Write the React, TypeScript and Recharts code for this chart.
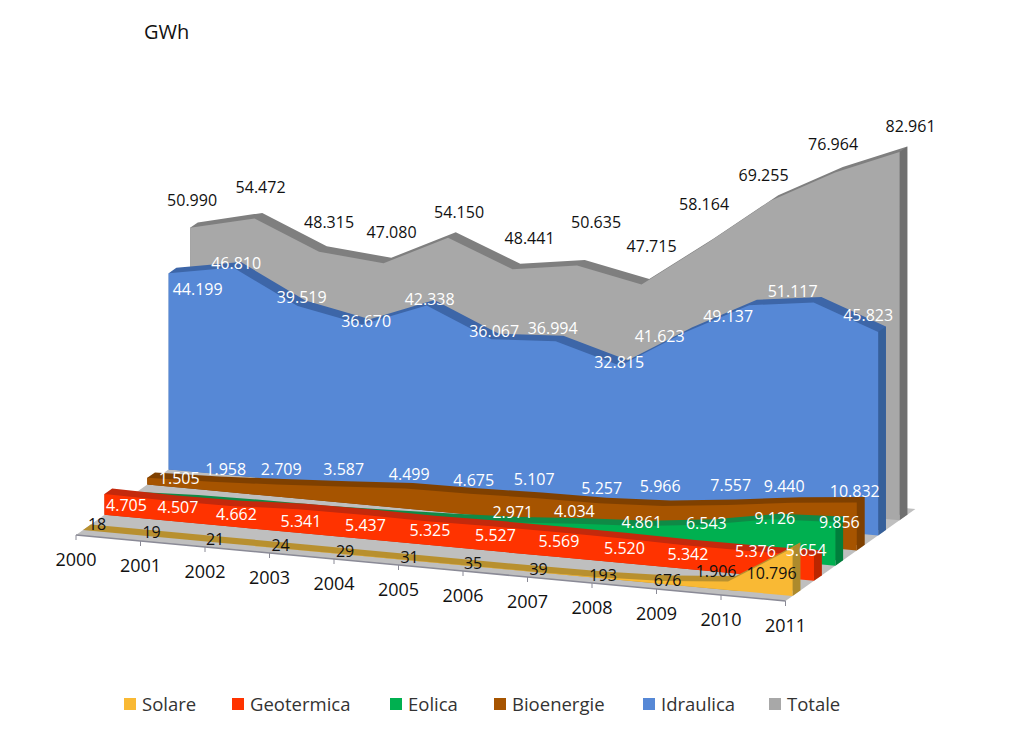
import { Area, ComposedChart, Legend, Line, LabelList, XAxis, YAxis } from "recharts";

const years = [2000, 2001, 2002, 2003, 2004, 2005, 2006, 2007, 2008, 2009, 2010, 2011];

const solare = [18, 19, 21, 24, 29, 31, 35, 39, 193, 676, 1906, 10796];
const geotermica = [4705, 4507, 4662, 5341, 5437, 5325, 5527, 5569, 5520, 5342, 5376, 5654];
const eolica = [563, 1179, 1404, 1458, 1847, 2343, 2971, 4034, 4861, 6543, 9126, 9856];
const bioenergie = [1505, 1958, 2709, 3587, 4499, 4675, 5107, 5257, 5966, 7557, 9440, 10832];
const idraulica = [44199, 46810, 39519, 36670, 42338, 36067, 36994, 32815, 41623, 49137, 51117, 45823];
const totale = [50990, 54472, 48315, 47080, 54150, 48441, 50635, 47715, 58164, 69255, 76964, 82961];

// label nudges in px, null = no label in the original
type Nudge = [number, number] | null;
const solareNudge: Nudge[] = [[14, -6], [4, -4], [3, -3], [4, -3], [4, -3], [4, -3], [3, -3], [4, -3], [4, -2], [4, -1], [-12, -11], [-21, 25]];
const geoNudge: Nudge[] = [[22, 11], [9, 6], [3, 8], [3, 12], [3, 10], [3, 9], [4, 9], [3, 9], [4, 10], [3, 9], [6, 0], [-8, -6]];
const eolicaNudge: Nudge[] = [null, null, null, null, null, null, [0, -11], [-3, -13], [0, -4], [0, -2], [4, -1], [4, 0]];
const bioNudge: Nudge[] = [[32, 0], [14, -13], [5, -16], [3, -18], [4, -15], [4, -14], [0, -19], [3, -15], [-3, -20], [3, -20], [-8, -17], [-2, -11]];
const idraulicaNudge: Nudge[] = [[29, 16], [3, -5], [4, -9], [4, -4], [3, -6], [3, -8], [-3, -13], [-1, -4], [-25, 3], [-21, 11], [-21, -11], [-10, -17]];
const totaleNudge: Nudge[] = [[2, -28], [6, -31], [10, -30], [8, -31], [11, -26], [17, -31], [19, -43], [10, -38], [-2, -40], [-7, -26], [-2, -29], [11, -26]];

const legendWidths = [108, 158, 104, 149, 126, 80];

const series = [
  { name: "Solare", values: solare, depth: 0.33, face: "#f9b934", top: "#b8902f", wall: "#ad8a2c", text: "#111", nudge: solareNudge },
  { name: "Geotermica", values: geotermica, depth: 1.33, face: "#ff3300", top: "#c4290c", wall: "#bb2600", text: "#fff", nudge: geoNudge },
  { name: "Eolica", values: eolica, depth: 2.33, face: "#00b050", top: "#0f8a46", wall: "#007f3c", text: "#fff", nudge: eolicaNudge },
  { name: "Bioenergie", values: bioenergie, depth: 3.33, face: "#a65400", top: "#7f4000", wall: "#7f4000", text: "#fff", nudge: bioNudge },
  { name: "Idraulica", values: idraulica, depth: 4.33, face: "#5688d6", top: "#3d66a8", wall: "#36609a", text: "#fff", nudge: idraulicaNudge },
  { name: "Totale", values: totale, depth: 5.33, face: "#a8a8a8", top: "#7f7f7f", wall: "#6f6f6f", text: "#111", nudge: totaleNudge },
];

// oblique projection expressed in axis units (years across, GWh up)
const W = 1024;
const H = 753;
const PX_PER_YEAR = 64.5;
const PX_PER_GWH = 0.00444;
const FRONT_X = 76;
const FRONT_Y = 535;
const DEPTH_X = 21.4 / PX_PER_YEAR;
const DEPTH_Y = 15.15 / PX_PER_GWH;
const SLOPE = 6 / PX_PER_GWH;
const THICK = 0.36;
const FLOOR_DEPTH = 6.07;

const px = (year: number, depth: number) => year + depth * DEPTH_X;
const py = (year: number, depth: number) => -(year - 2000) * SLOPE + depth * DEPTH_Y;

const xDomain = [2000 - FRONT_X / PX_PER_YEAR, 2000 + (W - FRONT_X) / PX_PER_YEAR];
const yDomain = [-(H - FRONT_Y) / PX_PER_GWH, FRONT_Y / PX_PER_GWH];

const floorRows = () => {
  const last = years[years.length - 1];
  const backLeft = px(2000, FLOOR_DEPTH);
  const yearAtBack = last - FLOOR_DEPTH * DEPTH_X;
  return [
    { x: px(2000, 0), range: [py(2000, 0), py(2000, 0)] },
    { x: backLeft, range: [py(backLeft, 0), py(2000, FLOOR_DEPTH)] },
    { x: px(last, 0), range: [py(last, 0), py(yearAtBack, FLOOR_DEPTH)] },
    { x: px(last, FLOOR_DEPTH), range: [py(last, FLOOR_DEPTH), py(last, FLOOR_DEPTH)] },
  ];
};

const faceRows = (values: number[], depth: number) =>
  years.map((y, i) => {
    const base = py(y, depth);
    return { x: px(y, depth), range: [base, base + values[i]], top: base + values[i], label: i };
  });

// top face of the extrusion: the same outline pushed back by THICK
const backRows = (values: number[], depth: number) => {
  const d = depth + THICK;
  const first = py(years[0], depth);
  const rows = [{ x: px(years[0], depth), range: [first, first + values[0]] }];
  years.forEach((y, i) => {
    const isLast = i === years.length - 1;
    const low = isLast ? py(y, d) : py(y + THICK * DEPTH_X, depth);
    rows.push({ x: px(y, d), range: [low, py(y, d) + values[i]] });
  });
  return rows;
};

const wallRows = (values: number[], depth: number) => {
  const i = years.length - 1;
  const y = years[i];
  const d = depth + THICK;
  return [
    { x: px(y, depth), range: [py(y, depth), py(y, depth) + values[i]] },
    { x: px(y, d), range: [py(y, d), py(y, d) + values[i]] },
  ];
};

const axisRows = years.map((y) => ({ x: px(y, 0), front: py(y, 0), year: String(y) }));

const fmt = (v: number) => String(v).replace(/\B(?=(\d{3})+$)/g, ".");

const FONT = "'Open Sans', 'Noto Sans', sans-serif";

const valueLabel = (s: (typeof series)[number]) => (props: any) => {
  const n = s.nudge[props.index];
  if (!n) return null;
  return (
    <text
      x={props.x + n[0]}
      y={props.y + n[1]}
      textAnchor="middle"
      dominantBaseline="central"
      fontSize={16}
      fontFamily={FONT}
      fill={s.text}
    >
      {fmt(s.values[props.index])}
    </text>
  );
};

const yearLabel = (props: any) => (
  <text
    x={props.x}
    y={props.y + 23.5}
    textAnchor="middle"
    dominantBaseline="central"
    fontSize={18}
    fontFamily={FONT}
    fill="#111"
  >
    {years[props.index]}
  </text>
);

const tickMark = (props: any) => (
  <line key={props.index} x1={props.cx} x2={props.cx} y1={props.cy} y2={props.cy + 5} stroke="#8a8a96" strokeWidth={1} />
);

const legendContent = () => (
  <div style={{ display: "flex", alignItems: "center", fontFamily: FONT, fontSize: 18.5, color: "#333" }}>
    {series.map((s, i) => (
      <div key={s.name} style={{ display: "flex", alignItems: "center", width: legendWidths[i] }}>
        <span style={{ width: 12, height: 12, background: s.face, marginRight: 6, display: "inline-block" }} />
        {s.name}
      </div>
    ))}
  </div>
);

export default function App() {
  const backToFront = [...series].reverse();
  return (
    <div style={{ position: "absolute", left: 0, top: 0, width: W, height: H, background: "#fff" }}>
      <div style={{ position: "absolute", left: 144, top: 18, fontFamily: FONT, fontSize: 20, color: "#111" }}>GWh</div>
      <ComposedChart width={W} height={H} margin={{ top: 0, right: 0, bottom: 0, left: 0 }}>
        <XAxis type="number" dataKey="x" domain={xDomain} hide allowDataOverflow />
        <YAxis type="number" domain={yDomain} hide allowDataOverflow />
        <Legend
          content={legendContent}
          layout="horizontal"
          verticalAlign="middle"
          wrapperStyle={{ position: "absolute", left: 124, top: 691, width: 860, bottom: "auto" }}
        />
        <Area data={floorRows()} dataKey="range" type="linear" fill="#bfbfbf" fillOpacity={1} stroke="none" activeDot={false} isAnimationActive={false} />
        {backToFront.map((s) => [
          <Area key={s.name + "-back"} data={backRows(s.values, s.depth)} dataKey="range" type="linear" fill={s.top} fillOpacity={1} stroke="none" activeDot={false} isAnimationActive={false} />,
          <Area key={s.name + "-wall"} data={wallRows(s.values, s.depth)} dataKey="range" type="linear" fill={s.wall} fillOpacity={1} stroke="none" activeDot={false} isAnimationActive={false} />,
          <Area key={s.name} name={s.name} data={faceRows(s.values, s.depth)} dataKey="range" type="linear" fill={s.face} fillOpacity={1} stroke="none" activeDot={false} isAnimationActive={false} />,
        ])}
        <Line data={axisRows} dataKey="front" type="linear" stroke="#8a8a96" strokeWidth={1.5} dot={tickMark} activeDot={false} isAnimationActive={false}>
          <LabelList dataKey="year" content={yearLabel} />
        </Line>
        {backToFront.map((s) => (
          <Line key={s.name + "-labels"} data={faceRows(s.values, s.depth)} dataKey="top" type="linear" stroke="none" dot={false} activeDot={false} isAnimationActive={false}>
            <LabelList dataKey="label" content={valueLabel(s)} />
          </Line>
        ))}
      </ComposedChart>
    </div>
  );
}
